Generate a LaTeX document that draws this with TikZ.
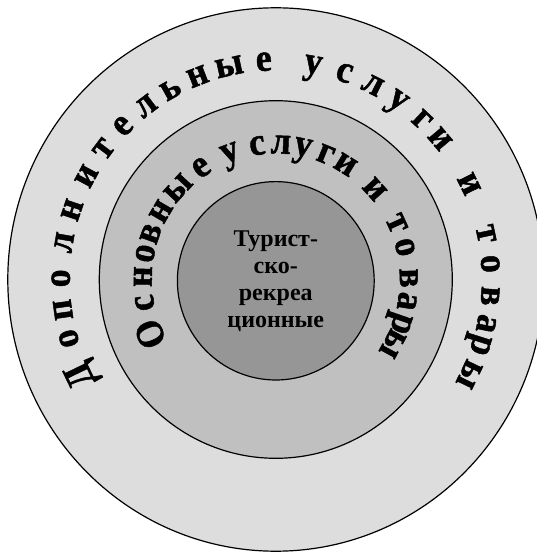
\documentclass[tikz,border=0pt]{standalone}
\usepackage{fontspec}
\setmainfont{Liberation Serif}
\newfontfamily\arcfont{Liberation Serif}[BoldFeatures={FakeStretch=0.92, FakeBold=1.2}]
\usepackage{xcolor}
\usepackage{tikz}
\usetikzlibrary{positioning}
\definecolor{OuterGray}{RGB}{221,221,221}
\definecolor{MiddleGray}{RGB}{192,192,192}
\definecolor{InnerGray}{RGB}{150,150,150}
\tikzset{
  ring/.style={draw=black, line width=1.2pt},
  arcletter/.style={font=\arcfont\bfseries\fontsize{39}{39}\selectfont, anchor=base, inner sep=0pt}
}

\begin{document}
\begin{tikzpicture}[x=1pt, y=1pt]
  \useasboundingbox (-275.8,-272.5) rectangle (261.2,279.5);
  % rings
  \begin{scope}
    \clip (-275.8,-272.5) rectangle (261.2,279.5);
    \draw[ring, fill=OuterGray] (0,0) ellipse [x radius=268, y radius=271.7];
  \end{scope}
  \draw[ring, fill=MiddleGray] (0,0) ellipse [x radius=176.5, y radius=178.8];
  \draw[ring, fill=InnerGray] (0,-1.3) ellipse [x radius=98.4, y radius=99.2];
  % outer ring text
  \foreach \ch/\a [count=\i] in {Д/205.8, о/195.7, п/188, о/179.7, л/170.2, н/161.4, и/151.7, т/143.2, е/135.3, л/127.2, ь/119.3, н/111.3, ы/102.5, е/93.2,
      у/80, с/71.4, л/63.2, у/55.3, г/47.1, и/40.2, и/26, т/12.1, о/4.1, в/-4.4, а/-11.7, р/-17.5, ы/-25.8}
    \node[arcletter, rotate=\a-90] (extra\i) at (\a:206 and 209) {\ch};
  % middle ring text
  \foreach \ch/\a [count=\i] in {О/203.2, с/190, н/178.8, о/168.9, в/160.1, н/149.7, ы/137.3, е/124.1,
      у/110.2, с/98, л/87.8, у/78.2, г/67.9, и/58.4, и/42, т/24.6, о/13.8, в/0.6, а/-9.3, р/-19.1, ы/-28.4}
    \node[arcletter, rotate=\a-90] (basic\i) at (\a:124 and 126) {\ch};
  % core
  \node[align=center, font=\bfseries\fontsize{24}{27}\selectfont] (core) at (0,-1.3) {Турист-\\ско-\\рекреа\\ционные};
\end{tikzpicture}
\end{document}
